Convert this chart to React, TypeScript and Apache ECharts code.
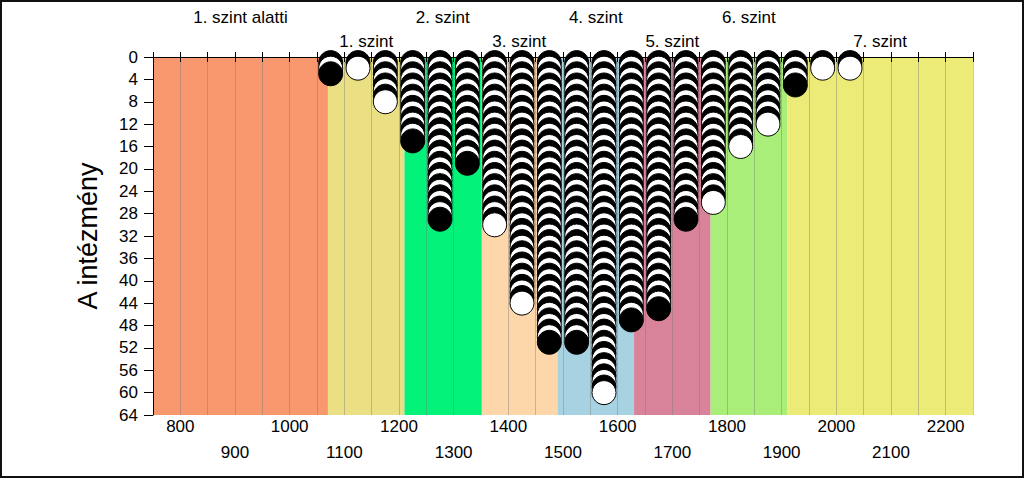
import React, { useEffect, useRef } from "react";
import * as echarts from "echarts";

// ---- data ----
const columnCenters = [1075, 1125, 1175, 1225, 1275, 1325, 1375, 1425, 1475, 1525, 1575, 1625, 1675, 1725, 1775, 1825, 1875, 1925, 1975, 2025];
const columnCounts = [3, 2, 8, 15, 29, 19, 30, 44, 51, 51, 60, 47, 45, 29, 26, 16, 12, 5, 2, 2];

const bandNames = ["1. szint alatti", "1. szint", "2. szint", "3. szint", "4. szint", "5. szint", "6. szint", "7. szint"];
const bandStarts = [750, 1070, 1210, 1350, 1490, 1630, 1770, 1910];
const bandEnds = [1070, 1210, 1350, 1490, 1630, 1770, 1910, 2250];
const bandColors = ["#F9976E", "#EAE083", "#02F27A", "#FDD6AA", "#A6D2E2", "#D8839A", "#A9EE78", "#EDEB78"];
const bandLabelRow = [0, 1, 0, 1, 0, 1, 0, 1];

const xMin = 750;
const xMax = 2250;
const xStep = 50;
const yMin = 0;
const yMax = 64;
const yStep = 4;
const yTitle = "A intézmény";

const FONT = "'Liberation Sans', Arial, sans-serif";

export default function App() {
  const ref = useRef<HTMLDivElement>(null);

  useEffect(() => {
    if (!ref.current) return;
    const chart = echarts.init(ref.current, undefined, { renderer: "svg" });

    const circles: any[] = [];
    columnCenters.forEach((x, i) => {
      for (let k = 1; k <= columnCounts[i]; k++) {
        const black = k % 2 === 1;
        circles.push({
          value: [x, k],
          itemStyle: { color: black ? "#000000" : "#ffffff", borderColor: "#000000", borderWidth: 1, opacity: 1 },
        });
      }
    });

    const areas = bandNames.map((name, i) => [
      {
        name,
        xAxis: bandStarts[i],
        itemStyle: { color: bandColors[i], opacity: 1, borderWidth: 0 },
        label: {
          show: true,
          position: "top",
          distance: bandLabelRow[i] === 0 ? 31 : 7,
          color: "#000",
          fontSize: 17,
          fontFamily: FONT,
        },
      },
      { xAxis: bandEnds[i] },
    ]);

    chart.setOption({
      animation: false,
      backgroundColor: "#ffffff",
      textStyle: { fontFamily: FONT },
      grid: { left: 153, right: 51, top: 57, bottom: 63 },
      graphic: [
        {
          type: "rect",
          shape: { x: 1, y: 1, width: 1022, height: 476 },
          style: { fill: "none", stroke: "#111", lineWidth: 2 },
          z: 100,
        },
      ],
      xAxis: [
        {
          type: "value",
          position: "bottom",
          min: xMin,
          max: xMax,
          interval: xStep,
          z: 2,
          axisLine: { show: true, lineStyle: { color: "#000", width: 1 } },
          axisTick: { show: true, inside: false, length: 5, lineStyle: { color: "#000" } },
          splitLine: { show: true, lineStyle: { color: "rgba(120,120,120,0.4)", width: 1 } },
          axisLabel: {
            color: "#000",
            fontSize: 17,
            fontFamily: FONT,
            lineHeight: 26,
            margin: -2,
            formatter: (v: number) => (v % 200 === 0 ? String(v) : v % 100 === 0 ? "\n" + v : ""),
          },
        },
        {
          type: "value",
          position: "top",
          min: xMin,
          max: xMax,
          interval: xStep,
          z: 2,
          axisLine: { show: true, onZero: false, lineStyle: { color: "#000", width: 1 } },
          axisTick: { show: true, inside: false, length: 5, lineStyle: { color: "#000" } },
          splitLine: { show: false },
          axisLabel: { show: false },
        },
      ],
      yAxis: {
        type: "value",
        inverse: true,
        min: yMin,
        max: yMax,
        interval: yStep,
        z: 2,
        name: yTitle,
        nameLocation: "middle",
        nameRotate: 90,
        nameGap: 52,
        nameTextStyle: { color: "#000", fontSize: 27, fontFamily: FONT },
        axisLine: { show: true, lineStyle: { color: "#000", width: 1 } },
        axisTick: { show: true, inside: false, length: 9, lineStyle: { color: "#000" } },
        splitLine: { show: false },
        axisLabel: { color: "#000", fontSize: 17, fontFamily: FONT, margin: 15 },
      },
      series: [
        {
          type: "scatter",
          xAxisIndex: 0,
          data: [],
          z: 0,
          silent: true,
          markArea: { silent: true, z: 0, data: areas },
        },
        {
          type: "scatter",
          xAxisIndex: 0,
          symbol: "circle",
          symbolSize: 24,
          clip: false,
          z: 5,
          silent: true,
          itemStyle: { opacity: 1 },
          data: circles,
        },
      ],
    });

    return () => chart.dispose();
  }, []);

  return (
    <div
      ref={ref}
      style={{ position: "fixed", left: 0, top: 0, width: 1024, height: 478, background: "#fff" }}
    />
  );
}
